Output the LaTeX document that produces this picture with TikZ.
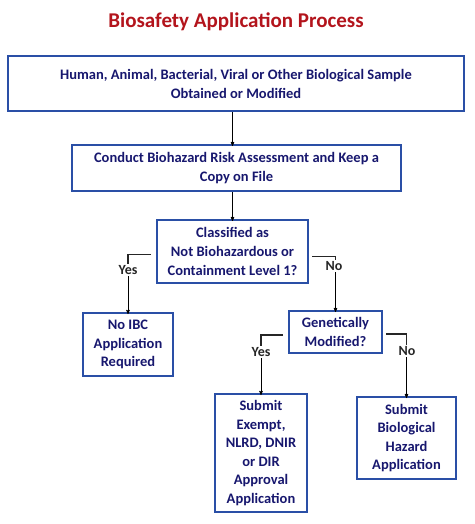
\documentclass[tikz,border=0pt]{standalone}
\usepackage{fontspec}
\setmainfont{Carlito}
\usepackage{tikz}
\usetikzlibrary{arrows,calc,positioning}

\definecolor{boxblue}{HTML}{2A4FA6}
\definecolor{textnavy}{HTML}{17176E}
\definecolor{titlered}{HTML}{B3141C}

\begin{document}
\begin{tikzpicture}[x=1pt,y=-1pt,->,>=stealth',semithick,
  box/.style={draw=boxblue,line width=2pt,text=textnavy,align=center,
    font=\bfseries\fontsize{14.5}{18.6}\selectfont,inner sep=0pt},
  answer/.style={text=black!85,font=\bfseries\fontsize{14}{16}\selectfont,inner sep=1.5pt},
  link/.style={-,black!85,line width=1.1pt}]
	  \useasboundingbox (0,0) rectangle (474,524);
	  \node[text=titlered,font=\bfseries\fontsize{21}{24}\selectfont] (title) at (236,22) {Biosafety Application Process};
	  \node[box,minimum width=456pt,minimum height=55pt] (sample) at (236,84)
	    {Human, Animal, Bacterial, Viral or Other Biological Sample\\Obtained or Modified};
	  \node[box,minimum width=329pt,minimum height=46pt] (assess) at (236.5,168)
	    {Conduct Biohazard Risk Assessment and Keep a\\Copy on File};
	  \node[box,minimum width=151pt,minimum height=63pt] (classify) at (232.5,251.5)
	    {Classified as\\Not Biohazardous or\\Containment Level 1?};
	  \node[box,minimum width=90pt,minimum height=63pt] (noibc) at (128,344.5)
	    {No IBC\\Application\\Required};
	  \node[box,minimum width=93pt,minimum height=42pt] (genmod) at (335.5,332)
	    {Genetically\\Modified?};
	  \node[box,minimum width=92pt,minimum height=118pt] (exempt) at (261,453)
	    {Submit\\Exempt,\\NLRD, DNIR\\or DIR\\Approval\\Application};
	  \node[box,minimum width=99pt,minimum height=82pt] (biohaz) at (406.5,438)
	    {Submit\\Biological\\Hazard\\Application};
	  % answer labels
	  \node[answer] (yes1) at (128,270) {Yes};
	  \node[answer] (no1)  at (334,266) {No};
	  \node[answer] (yes2) at (261,352) {Yes};
	  \node[answer] (no2)  at (407,351) {No};
	  % main line
	  \draw (classify.north |- sample.south) -- ([yshift=-2pt]classify.north |- assess.north);
	  \draw (classify.north |- assess.south) -- ([yshift=-2pt]classify.north);
	  % first decision
	  \draw[link] ([xshift=-5pt,yshift=-3pt]classify.west) -| (yes1.north);
	  \draw (yes1.south) -- ([yshift=-2pt]noibc.north);
	  \draw[link] ([xshift=3pt,yshift=-5pt]classify.east) -| (no1.north -| genmod.north);
	  \draw (no1.south -| genmod.north) -- ([yshift=-2pt]genmod.north);
	  % second decision
	  \draw[link] ([xshift=-5pt,yshift=-3pt]genmod.west) -| (yes2.north);
	  \draw (yes2.south) -- ([yshift=-2pt]exempt.north);
	  \draw[link] ([xshift=3pt,yshift=-2pt]genmod.east) -| (no2.north -| biohaz.north);
	  \draw (no2.south -| biohaz.north) -- ([yshift=-2pt]biohaz.north);
	\end{tikzpicture}
\end{document}
